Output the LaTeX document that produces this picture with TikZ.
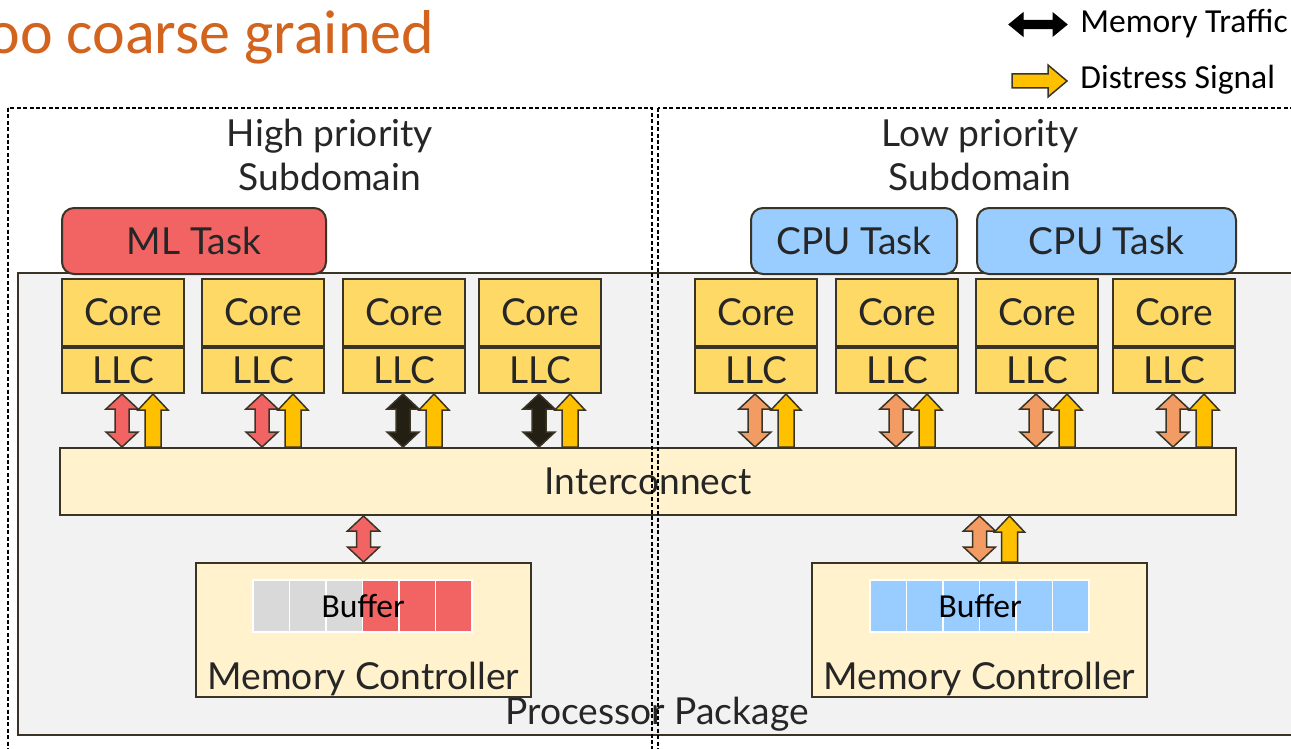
\documentclass[tikz,border=0pt]{standalone}
\usepackage{fontspec}
\setmainfont{Lato}
\newfontfamily\carlitofont{Carlito}
\usetikzlibrary{positioning,calc}

\definecolor{linec}{HTML}{3A3426}
\definecolor{txt}{HTML}{262626}
\definecolor{coreyel}{HTML}{FFD966}
\definecolor{paleyel}{HTML}{FFF2CC}
\definecolor{pkggray}{HTML}{F2F2F2}
\definecolor{mlred}{HTML}{F26464}
\definecolor{cpublue}{HTML}{99CCFF}
\definecolor{bufgray}{HTML}{D9D9D9}
\definecolor{memorg}{HTML}{F29B62}
\definecolor{memblk}{HTML}{231F12}
\definecolor{sigyel}{HTML}{FFC000}
\definecolor{titleorg}{HTML}{D2641E}

\newcommand{\bigtxt}{\fontsize{18.6}{22}\selectfont}
\newcommand{\legtxt}{\carlitofont\fontsize{16.8}{18}\selectfont}

\tikzset{
    unit/.style={draw=linec, line width=1pt, inner sep=0pt, text=txt, font=\bigtxt},
    corebox/.style={unit, fill=coreyel, minimum width=61pt, minimum height=33.5pt},
    llcbox/.style={unit, fill=coreyel, minimum width=61pt, minimum height=22.5pt},
    taskbox/.style={unit, rounded corners=6pt, minimum height=33pt},
    palebox/.style={unit, fill=paleyel},
    cell/.style={draw=white, line width=0.75pt, minimum width=18.25pt, minimum height=26pt, inner sep=0pt},
    zonebox/.style={draw=black, line width=0.6pt, dash pattern=on 2pt off 1.2pt},
    flowline/.style={draw=linec, line width=0.75pt, line join=miter},
    memsize/.style={/utils/exec={\def\arrhw{8pt}\def\arrsw{3.5pt}\def\arrhl{7.5pt}}},
    sigsize/.style={/utils/exec={\def\arrhw{7.5pt}\def\arrsw{4pt}\def\arrhl{8pt}}},
    legmemsize/.style={/utils/exec={\def\arrhw{5.75pt}\def\arrsw{2.1pt}\def\arrhl{7pt}}},
    legsigsize/.style={/utils/exec={\def\arrhw{8pt}\def\arrsw{3.5pt}\def\arrhl{9.5pt}}},
    twoway/.style={to path={let \p1=(\tikztostart), \p2=(\tikztotarget) in
        (\p1) -- ($(\p1)!\arrhl!(\p2)!\arrhw!90:(\p2)$)
        -- ($(\p1)!\arrhl!(\p2)!\arrsw!90:(\p2)$)
        -- ($(\p2)!\arrhl!(\p1)!\arrsw!-90:(\p1)$)
        -- ($(\p2)!\arrhl!(\p1)!\arrhw!-90:(\p1)$)
        -- (\p2)
        -- ($(\p2)!\arrhl!(\p1)!\arrhw!90:(\p1)$)
        -- ($(\p2)!\arrhl!(\p1)!\arrsw!90:(\p1)$)
        -- ($(\p1)!\arrhl!(\p2)!\arrsw!-90:(\p2)$)
        -- ($(\p1)!\arrhl!(\p2)!\arrhw!-90:(\p2)$)
        -- cycle}},
    oneway/.style={to path={let \p1=(\tikztostart), \p2=(\tikztotarget) in
        ($(\p1)!\arrsw!90:(\p2)$)
        -- ($(\p2)!\arrhl!(\p1)!\arrsw!-90:(\p1)$)
        -- ($(\p2)!\arrhl!(\p1)!\arrhw!-90:(\p1)$)
        -- (\p2)
        -- ($(\p2)!\arrhl!(\p1)!\arrhw!90:(\p1)$)
        -- ($(\p2)!\arrhl!(\p1)!\arrsw!90:(\p1)$)
        -- ($(\p1)!\arrsw!-90:(\p2)$)
        -- cycle}}
}

\begin{document}
\begin{tikzpicture}[x=0.5pt, y=-0.5pt]
    \useasboundingbox (0,0) rectangle (1291,749);
    \clip (0,0) rectangle (1291,749);

    % Title and legend
    \node[anchor=base west, inner sep=0pt, text=titleorg, font=\carlitofont\fontsize{31}{36}\selectfont] (title) at (-13,54) {oo coarse grained};
    \node[anchor=west, inner sep=0pt, font=\legtxt] (legmem) at (1080,24) {Memory Traffic};
    \node[anchor=west, inner sep=0pt, font=\legtxt] (legsig) at (1080,80) {Distress Signal};
    \coordinate (lgm1) at (1009,24.5);
    \coordinate (lgm2) at (1067,24.5);
    \coordinate (lgs1) at (1012,81);
    \coordinate (lgs2) at (1067,81);
    \draw[draw=black, fill=black, line width=0.5pt, legmemsize] (lgm1) to[twoway] (lgm2);
    \draw[flowline, fill=sigyel, legsigsize] (lgs1) to[oneway] (lgs2);

    % Package
    \draw[draw=linec, line width=0.8pt, fill=pkggray] (18,273) rectangle (1300,735);
    \node[font=\bigtxt, text=txt] (pkglabel) at (657,714) {Processor Package};

    % Subdomain headings and tasks
    \node[font=\bigtxt, text=txt, align=center] (hisub) at (330,155) {High priority\\Subdomain};
    \node[font=\bigtxt, text=txt, align=center] (losub) at (980,155) {Low priority\\Subdomain};
    \node[taskbox, fill=mlred, minimum width=132pt] (ml) at (194,241) {ML Task};
    \node[taskbox, fill=cpublue, minimum width=103pt] (cpu1) at (854,241) {CPU Task};
    \node[taskbox, fill=cpublue, minimum width=129.5pt] (cpu2) at (1106.5,241) {CPU Task};

    % Interconnect
    \node[palebox, minimum width=588pt, minimum height=33.5pt] (ic) at (648,481.5) {Interconnect};

    % Cores with their traffic and signals
    \foreach \i/\cx/\col in {1/123/mlred, 2/263/mlred, 3/404/memblk, 4/540/memblk,
                              5/756/memorg, 6/897/memorg, 7/1037/memorg, 8/1174/memorg} {
        \node[corebox] (c\i) at (\cx,312.5) {Core};
        \node[llcbox, below=0pt of c\i] (l\i) {LLC};
        \coordinate (mt\i) at ([xshift=-0.5pt]l\i.south);
        \coordinate (ds\i) at ([xshift=15pt]l\i.south);
        \draw[flowline, fill=\col, memsize] (mt\i) to[twoway] (mt\i |- ic.north);
        \draw[flowline, fill=sigyel, sigsize] (ds\i |- ic.north) to[oneway] (ds\i);
    }

    % Memory controllers
    \node[palebox, minimum width=167.5pt, minimum height=67pt] (lmc) at (363.5,630) {};
    \node[palebox, minimum width=167.5pt, minimum height=67pt] (rmc) at (979.5,630) {};
    \node[anchor=base, font=\bigtxt, text=txt] (lmctxt) at ([yshift=4.5pt]lmc.south) {Memory Controller};
    \node[anchor=base, font=\bigtxt, text=txt] (rmctxt) at ([yshift=4.5pt]rmc.south) {Memory Controller};

    \foreach \k/\f in {1/bufgray, 2/bufgray, 3/bufgray, 4/mlred, 5/mlred, 6/mlred}
        \node[cell, fill=\f] (lb\k) at ({253+36.5*(\k-0.5)},606) {};
    \foreach \k in {1,...,6}
        \node[cell, fill=cpublue] (rb\k) at ({870+36.5*(\k-0.5)},606) {};
    \node[font=\legtxt] (lbuf) at (lb3.east) {Buffer};
    \node[font=\legtxt] (rbuf) at (rb3.east) {Buffer};

    \coordinate (rds) at ([xshift=15pt]rmc.north);
    \draw[flowline, fill=mlred, memsize] (lmc.north |- ic.south) to[twoway] (lmc.north);
    \draw[flowline, fill=memorg, memsize] (rmc.north |- ic.south) to[twoway] (rmc.north);
    \draw[flowline, fill=sigyel, sigsize] (rds) to[oneway] (rds |- ic.south);

    % Subdomain outlines
    \draw[zonebox] (8,108) rectangle (652,760);
    \draw[zonebox] (658,108) rectangle (1300,760);
\end{tikzpicture}
\end{document}
